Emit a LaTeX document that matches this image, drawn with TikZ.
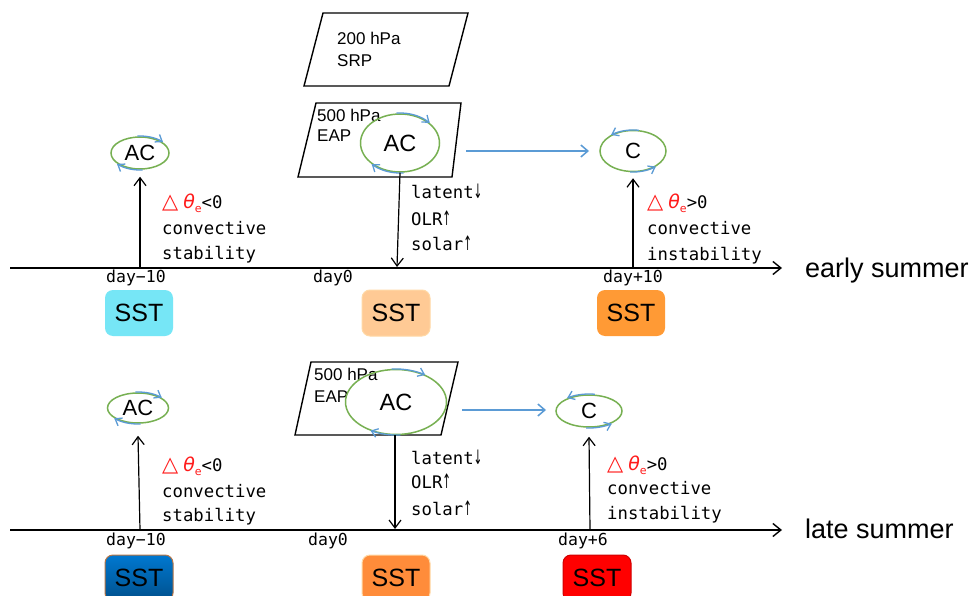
\documentclass[tikz,border=0pt]{standalone}
\usepackage{fontspec}
\usepackage{graphicx}
\setmainfont{Liberation Sans}
\newfontfamily\monofont{DejaVu Sans Mono}
\newfontfamily\symfont{DejaVu Sans}
\usetikzlibrary{arrows.meta,shapes.geometric,calc}

\definecolor{ringgreen}{HTML}{77B052}
\definecolor{spinblue}{HTML}{5B9BD5}
\definecolor{thred}{HTML}{FF1A1A}
\definecolor{sstcyan}{HTML}{76E6F6}
\definecolor{sstpeach}{HTML}{FFCA95}
\definecolor{sstpeachedge}{HTML}{FFD9A6}
\definecolor{sstorange}{HTML}{FF9A35}
\definecolor{sstorangeB}{HTML}{FF8C3A}
\definecolor{sstred}{HTML}{FF0000}
\definecolor{sstredge}{HTML}{D00000}
\definecolor{sstblueT}{HTML}{0078D0}
\definecolor{sstblueB}{HTML}{00508C}
\definecolor{sstbluedge}{HTML}{B87545}

% red "delta theta_e"
\newcommand\dtheta{{\color{thred}\symfont\fontsize{21}{21}\selectfont △\hspace{5pt}\fontsize{19}{19}\selectfont\itshape θ\raisebox{-4pt}{\upshape\fontsize{11}{11}\selectfont e}}}
% narrow tall arrows
\newcommand\dnarr{\scalebox{0.6}[1.15]{\symfont ↓}}
\newcommand\uparr{\scalebox{0.6}[1.15]{\symfont ↑}}

% small rotation arrow drawn along an ellipse (angles measured with y pointing down)
\newcommand\spinarc[6]{%
  \draw[spin] plot[domain=#5:#6, samples=24, smooth] ({#1+#3*cos(\x)},{#2+#4*sin(\x)});}

\tikzset{
  axisline/.style={line width=1.4pt, -{Straight Barb[length=8pt,width=13pt]}},
  rise/.style={line width=1.2pt, -{Straight Barb[length=8pt,width=12pt]}},
  spin/.style={draw=spinblue, line width=1.3pt, -{Straight Barb[length=6pt,width=9pt]}},
  flow/.style={draw=spinblue, line width=1.5pt, -{Straight Barb[length=7pt,width=12pt]}},
  ring/.style={ellipse, draw=ringgreen, line width=1.5pt, inner sep=0pt, font=\fontsize{22}{22}\selectfont},
  level/.style={draw, line width=1.4pt},
  mono/.style={font=\monofont\fontsize{17.3}{17.3}\selectfont, inner sep=0pt, anchor=base west},
  daylbl/.style={font=\monofont\fontsize{16.5}{16.5}\selectfont, inner sep=0pt, anchor=base},
  hpa/.style={font=\fontsize{17}{17}\selectfont, inner sep=0pt, anchor=base west},
  sst/.style={rounded corners=8pt, minimum width=68pt, minimum height=46pt, font=\fontsize{25}{25}\selectfont, inner sep=0pt, line width=1pt},
  season/.style={font=\fontsize{27}{27}\selectfont, inner sep=0pt, anchor=base west},
}

\begin{document}
\begin{tikzpicture}[x=1pt, y=-1pt]
\useasboundingbox[fill=white] (0,0) rectangle (971,596);

%================ early summer ================
\coordinate (e0) at (10,268);
\coordinate (e1) at (782,268);
\draw[axisline] (e0) -- (e1);
\node[season] (es) at (805,277) {early summer};

% upper levels
\draw[level] (323,13) -- (468,13) -- (449,86) -- (304,86) -- cycle;
\node[hpa] (srpA) at (337,45) {200 hPa};
\node[hpa] (srpB) at (337,67) {SRP};
\draw[level] (316,103) -- (461,103) -- (452,177) -- (298,177) -- cycle;
\node[hpa] (eapA) at (317,122) {500 hPa};
\node[hpa] (eapB) at (317,142) {EAP};

% circulations
\node[ring, minimum width=58pt, minimum height=32pt] (acL) at (140,153) {AC};
\spinarc{140}{153}{30}{17}{-95}{-40}
\spinarc{140}{153}{30}{17}{85}{140}
\node[ring, minimum width=79pt, minimum height=58pt, font=\fontsize{23.5}{23.5}\selectfont] (acM) at (400,143) {AC};
\spinarc{400}{143}{40}{30}{-95}{-42}
\spinarc{400}{143}{40}{30}{85}{135}
\node[ring, minimum width=66pt, minimum height=41pt] (cR) at (633,151) {C};
\spinarc{633}{151}{34}{21}{-80}{-130}
\spinarc{633}{151}{34}{21}{95}{48}

\coordinate (fA) at (466,151);
\coordinate (fB) at (589,151);
\draw[flow] (fA) -- (fB);

% vertical links
\coordinate (bL) at (140,268);
\draw[rise] (bL) -- ($(acL.south)+(0,7)$);
\coordinate (bM) at (397,267);
\draw[rise] (acM.south) -- (bM);
\coordinate (bR) at (633,268);
\draw[rise] (bR) -- ($(cR.south)+(0,6)$);

% annotations
\node[mono] (tL1) at (162,208) {\dtheta<0};
\node[mono] (tL2) at (162,234) {convective};
\node[mono] (tL3) at (162,259) {stability};
\node[mono] (tM1) at (411,199) {latent\dnarr};
\node[mono] (tM2) at (411,225) {OLR\uparr};
\node[mono] (tM3) at (411,250) {solar\uparr};
\node[mono] (tR1) at (647,208) {\dtheta>0};
\node[mono] (tR2) at (647,234) {convective};
\node[mono] (tR3) at (647,260) {instability};

\node[daylbl] (dL) at (136,282) {day−10};
\node[daylbl] (dM) at (333,282) {day0};
\node[daylbl] (dR) at (633,282) {day+10};

\node[sst, fill=sstcyan] (sL) at (139,313) {SST};
\node[sst, fill=sstpeach, draw=sstpeachedge] (sM) at (396,313) {SST};
\node[sst, fill=sstorange] (sR) at (631,313) {SST};

%================ late summer ================
\coordinate (l0) at (10,530);
\coordinate (l1) at (782,530);
\draw[axisline] (l0) -- (l1);
\node[season] (ls) at (805,538) {late summer};

\draw[level] (311,362) -- (458,362) -- (441,435) -- (295,435) -- cycle;
\node[hpa] (eapC) at (314,380) {500 hPa};
\node[hpa] (eapD) at (314,402) {EAP};

\node[ring, minimum width=61pt, minimum height=30pt] (acL2) at (138,408) {AC};
\spinarc{138}{408}{31}{16}{-95}{-40}
\spinarc{138}{408}{31}{16}{85}{140}
\node[ring, minimum width=101pt, minimum height=65pt, font=\fontsize{23.5}{23.5}\selectfont] (acM2) at (396,402) {AC};
\spinarc{396}{402}{51}{33}{-95}{-55}
\spinarc{396}{402}{51}{33}{85}{120}
\node[ring, minimum width=66pt, minimum height=32pt] (cR2) at (589,411) {C};
\spinarc{589}{411}{34}{17}{-80}{-130}
\spinarc{589}{411}{34}{17}{95}{48}

\coordinate (gA) at (462,410);
\coordinate (gB) at (546,410);
\draw[flow] (gA) -- (gB);

\coordinate (cL) at (140,530);
\draw[rise] (cL) -- ($(acL2.south)+(0,12)$);
\coordinate (cMtop) at (395,435);
\coordinate (cM) at (395,529);
\draw[rise] (cMtop) -- (cM);
\coordinate (cR2b) at (590,530);
\draw[rise] (cR2b) -- ($(cR2.south)+(0,9)$);

\node[mono] (uL1) at (162,471) {\dtheta<0};
\node[mono] (uL2) at (162,497) {convective};
\node[mono] (uL3) at (162,521) {stability};
\node[mono] (uM1) at (411,464) {latent\dnarr};
\node[mono] (uM2) at (411,488) {OLR\uparr};
\node[mono] (uM3) at (411,515) {solar\uparr};
\node[mono] (uR1) at (607,470) {\dtheta>0};
\node[mono] (uR2) at (607,494) {convective};
\node[mono] (uR3) at (607,519) {instability};

\node[daylbl] (eL) at (136,545) {day−10};
\node[daylbl] (eM) at (328,545) {day0};
\node[daylbl] (eR) at (583,545) {day+6};

\node[sst, top color=sstblueT, bottom color=sstblueB, draw=sstbluedge] (vL) at (139,578) {SST};
\node[sst, fill=sstorangeB, draw=sstpeachedge] (vM) at (396,578) {SST};
\node[sst, fill=sstred, draw=sstredge] (vR) at (597,578) {SST};
\end{tikzpicture}
\end{document}
